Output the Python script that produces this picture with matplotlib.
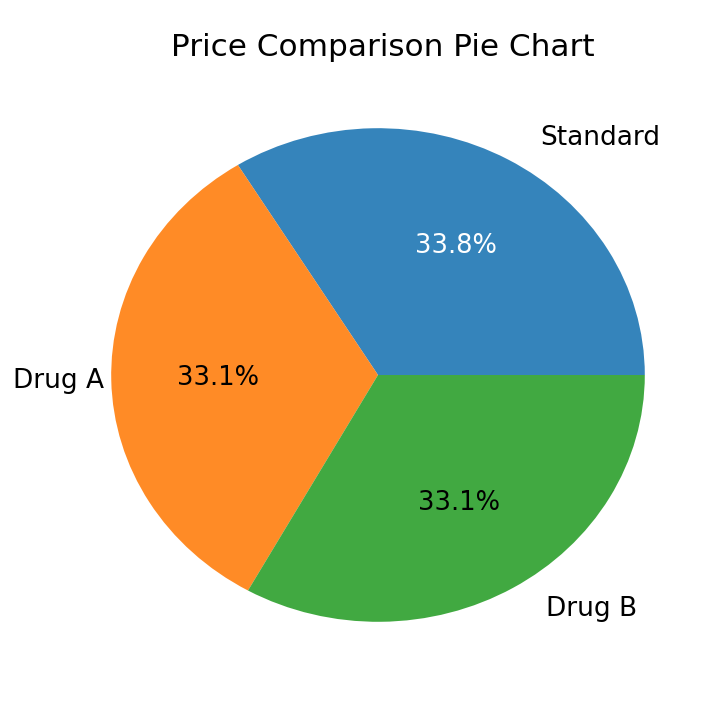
import matplotlib
matplotlib.use("Agg")
import matplotlib.pyplot as plt
import matplotlib.transforms as mtransforms

labels = ["Standard", "Drug A", "Drug B"]
prices = [33.8, 33.1, 33.1]
colors = ["#1f77b4", "#ff7f0e", "#2ca02c"]
pct_colors = ["white", "black", "black"]

fig = plt.figure(figsize=(7.16, 7.16), dpi=100)
ax = fig.add_axes([44.5 / 716, 32.5 / 716, 667 / 716, 617 / 716])

wedges, texts, autotexts = ax.pie(
    prices,
    labels=labels,
    colors=colors,
    autopct="%1.1f%%",
    wedgeprops={"alpha": 0.9},
    textprops={"fontsize": 19},
)
ax.set_aspect("auto")
ax.set_xlim(-1.25, 1.25)
ax.set_ylim(-1.25, 1.25)

for t, c in zip(autotexts, pct_colors):
    t.set_color(c)
    t.set_fontsize(18.5)

# labels in the reference sit a bit to the right of the default spot
for t in texts:
    t.set_transform(mtransforms.offset_copy(t.get_transform(), fig, x=14, units="points"))

fig.text(383 / 716, 1 - 47 / 716, "Price Comparison Pie Chart",
         ha="center", va="center", fontsize=22.4)

fig.savefig("out.png", dpi=100)
